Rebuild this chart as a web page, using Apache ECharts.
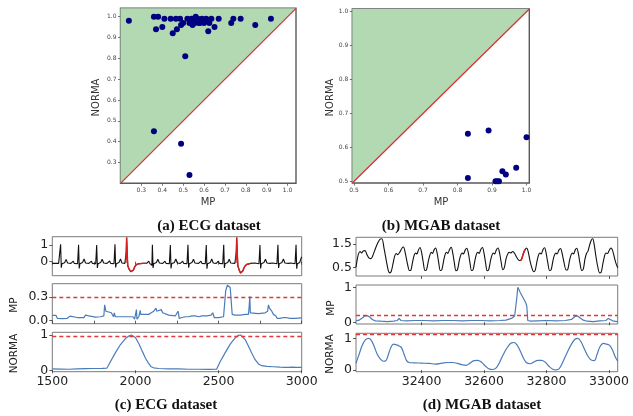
<!DOCTYPE html>
<html><head><meta charset="utf-8">
<script src="https://cdn.jsdelivr.net/npm/echarts@6/dist/echarts.min.js"></script>
<style>html,body{margin:0;padding:0;background:#fff}#c{width:633px;height:416px}</style>
</head><body><div id="c"></div>
<script>
// ---------- (a) ECG scatter: [MP, NORMA] ----------
const ecgScatter = [
  [0.24,0.98],[0.36,1.0],[0.38,1.0],[0.37,0.94],[0.40,0.95],[0.41,0.99],[0.44,0.99],[0.45,0.92],
  [0.465,0.99],[0.47,0.94],[0.485,0.99],[0.49,0.96],[0.50,0.97],[0.51,0.81],[0.52,0.99],[0.53,0.97],
  [0.54,0.99],[0.545,0.96],[0.55,0.98],[0.555,0.97],[0.56,1.0],[0.565,0.98],[0.57,0.99],[0.575,0.97],
  [0.58,0.97],[0.59,0.99],[0.60,0.97],[0.605,0.98],[0.61,0.99],[0.62,0.93],[0.625,0.97],[0.635,0.99],
  [0.65,0.95],[0.67,0.99],[0.73,0.97],[0.74,0.99],[0.775,0.99],[0.845,0.96],[0.92,0.99],
  [0.36,0.45],[0.49,0.39],[0.53,0.24]
];
// ---------- (b) MGAB scatter: [MP, NORMA] ----------
const mgabScatter = [
  [0.83,0.64],[0.89,0.65],[1.0,0.63],[0.83,0.51],[0.93,0.53],[0.94,0.52],[0.97,0.54],
  [0.91,0.50],[0.915,0.50],[0.92,0.50]
];
const scatterATicks = [0.3,0.4,0.5,0.6,0.7,0.8,0.9,1.0];
const scatterBTicks = [0.5,0.6,0.7,0.8,0.9,1.0];

// ---------- (c) ECG time series ----------
const ecgSignal = [
  [1500,-0.1],[1506,-0.08],[1512,0.02],[1518,-0.1],
  [1538,-0.1],[1544,-0.12],[1547,-0.22],[1550,1.05],[1554,-0.36],[1558,-0.12],[1574,-0.06],[1583,0.14],[1592,-0.08],[1612,-0.1],
  [1620,-0.08],[1626,0.03],[1632,-0.1],
  [1652,-0.12],[1655,-0.22],[1658,1.02],[1662,-0.4],[1666,-0.12],[1682,-0.05],[1691,0.16],[1700,-0.08],[1720,-0.1],
  [1729,-0.08],[1735,0.03],[1741,-0.1],
  [1761,-0.12],[1764,-0.22],[1767,1.0],[1771,-0.38],[1775,-0.12],[1791,-0.05],[1800,0.15],[1809,-0.08],[1829,-0.1],
  [1839,-0.08],[1845,0.04],[1851,-0.1],
  [1871,-0.12],[1874,-0.22],[1877,1.05],[1881,-0.34],[1885,-0.12],[1901,-0.05],[1910,0.16],[1919,-0.08],[1936,-0.1],
  [1942,-0.08],[1945,0.6],[1947,1.45],[1950,0.6],[1954,-0.25],[1962,-0.45],[1972,-0.6],[1980,-0.66],[1988,-0.5],
  [1996,-0.3],[2006,-0.17],[2020,-0.12],[2045,-0.1],[2068,-0.1],
  [2074,-0.08],[2080,0.03],[2086,-0.1],
  [2096,-0.12],[2099,-0.22],[2102,1.02],[2106,-0.38],[2110,-0.12],[2126,-0.05],[2135,0.15],[2144,-0.08],[2164,-0.1],
  [2172,-0.08],[2178,0.03],[2184,-0.1],
  [2204,-0.12],[2207,-0.22],[2210,1.0],[2214,-0.4],[2218,-0.12],[2234,-0.05],[2243,0.16],[2252,-0.08],[2270,-0.1],
  [2278,-0.08],[2284,0.03],[2290,-0.1],
  [2310,-0.12],[2313,-0.22],[2316,1.02],[2320,-0.36],[2324,-0.12],[2340,-0.05],[2349,0.15],[2358,-0.08],[2380,-0.1],
  [2388,-0.08],[2394,0.03],[2400,-0.1],
  [2420,-0.12],[2423,-0.22],[2426,1.0],[2430,-0.42],[2434,-0.12],[2450,-0.05],[2459,0.16],[2468,-0.08],[2486,-0.1],
  [2493,-0.08],[2499,0.03],[2505,-0.1],
  [2525,-0.12],[2528,-0.22],[2531,1.02],[2535,-0.38],[2539,-0.12],[2555,-0.05],[2564,0.15],[2573,-0.08],[2598,-0.1],
  [2604,-0.08],[2607,0.6],[2609,1.45],[2612,0.6],[2616,-0.25],[2624,-0.5],[2632,-0.68],[2638,-0.72],[2646,-0.55],
  [2656,-0.3],[2668,-0.17],[2680,-0.12],[2692,-0.1],
  [2717,-0.08],[2723,0.03],[2729,-0.1],
  [2743,-0.12],[2746,-0.22],[2749,1.0],[2753,-0.4],[2757,-0.12],[2773,-0.05],[2782,0.15],[2791,-0.08],[2810,-0.1],
  [2825,-0.08],[2831,0.03],[2837,-0.1],
  [2851,-0.12],[2854,-0.22],[2857,1.02],[2861,-0.38],[2865,-0.12],[2881,-0.05],[2890,0.16],[2899,-0.08],[2920,-0.1],
  [2934,-0.08],[2940,0.03],[2946,-0.1],
  [2960,-0.12],[2963,-0.22],[2966,1.02],[2970,-0.42],[2974,-0.12],[2988,-0.05],[2996,0.2],[3000,0.3]
];
const ecgAnomalies = [[1942,2068],[2604,2692]];
const ecgMP = [
  [1500,0.068],[1522,0.068],[1530,0.03],[1560,0.025],[1590,0.03],[1600,0.05],[1606,0.058],[1612,0.04],[1650,0.04],
  [1690,0.04],[1700,0.07],[1706,0.08],[1712,0.06],[1720,0.06],[1726,0.045],[1760,0.045],[1790,0.05],[1810,0.06],
  [1815,0.2],[1819,0.2],[1822,0.12],[1840,0.11],[1855,0.1],[1862,0.09],[1868,0.05],[1873,0.1],[1876,0.12],[1879,0.05],
  [1895,0.05],[1930,0.05],[1960,0.05],[1985,0.05],[1995,0.02],[2000,0.0],[2004,0.02],[2006,0.14],[2009,0.02],[2020,0.05],
  [2026,0.1],[2029,0.13],[2032,0.08],[2045,0.08],[2080,0.08],[2095,0.1],[2110,0.12],[2120,0.14],[2124,0.16],[2128,0.12],
  [2140,0.13],[2155,0.14],[2160,0.16],[2164,0.1],[2175,0.08],[2200,0.07],[2240,0.06],[2250,0.08],[2256,0.12],[2260,0.08],
  [2263,0.03],[2280,0.04],[2300,0.05],[2320,0.05],[2340,0.06],[2350,0.07],[2360,0.06],[2380,0.05],[2400,0.06],[2430,0.06],
  [2455,0.07],[2465,0.1],[2470,0.1],[2474,0.04],[2500,0.04],[2530,0.05],[2540,0.06],[2543,0.38],[2548,0.4],[2553,0.45],
  [2560,0.44],[2570,0.42],[2578,0.4],[2582,0.08],[2600,0.07],[2630,0.07],[2660,0.08],[2680,0.08],[2684,0.18],[2688,0.31],
  [2691,0.1],[2700,0.09],[2740,0.09],[2780,0.1],[2795,0.12],[2800,0.2],[2806,0.16],[2812,0.14],[2820,0.12],[2830,0.08],
  [2845,0.06],[2852,0.03],[2870,0.03],[2890,0.04],[2898,0.06],[2904,0.04],[2930,0.03],[2960,0.03],[3000,0.035]
];
const ecgNORMA = [
  [1500,0.04],[1550,0.035],[1600,0.03],[1650,0.04],[1700,0.045],[1750,0.05],[1800,0.055],[1828,0.06],[1850,0.25],
  [1880,0.5],[1910,0.73],[1940,0.9],[1960,0.97],[1975,1.0],[1985,0.99],[2000,0.93],[2020,0.76],[2040,0.55],[2060,0.35],
  [2078,0.2],[2095,0.1],[2110,0.07],[2140,0.05],[2200,0.04],[2260,0.04],[2320,0.03],[2380,0.03],[2440,0.025],[2488,0.03],
  [2510,0.25],[2540,0.5],[2570,0.74],[2600,0.92],[2620,0.99],[2633,1.0],[2645,0.97],[2660,0.87],[2680,0.68],[2700,0.48],
  [2720,0.3],[2740,0.18],[2760,0.13],[2790,0.11],[2830,0.1],[2870,0.09],[2900,0.085],[2920,0.08],[2930,0.07],[2945,0.09],
  [2970,0.085],[3000,0.08]
];
const ecgMPThreshold = 0.3;
const ecgNORMAThreshold = 0.95;
const ecgTicksMinor = [1500,1750,2000,2250,2500,2750,3000];
const ecgTickLabels = [1500,2000,2500,3000];

// ---------- (d) MGAB time series ----------
const mgabSignal = [
  [32190,0.52],[32194,0.85],[32198,1.08],[32203,1.18],[32208,1.12],[32213,1.2],[32219,1.22],[32225,1.05],[32232,0.9],
  [32238,0.88],[32245,1.05],[32252,1.3],[32260,1.55],[32267,1.7],[32273,1.72],[32280,1.3],[32287,0.8],[32293,0.4],
  [32298,0.28],[32303,0.35],
  [32309,0.7],[32314,1.0],[32319,1.1],[32324,1.05],[32330,1.15],[32337,1.32],[32342,1.37],[32348,1.1],[32355,0.65],[32361,0.38],[32366,0.4],
  [32372,0.8],[32377,1.05],[32381,1.12],[32385,1.08],[32390,1.25],[32395,1.35],[32400,1.15],[32405,0.75],[32411,0.38],[32416,0.42],
  [32422,0.8],[32427,1.05],[32431,1.15],[32435,1.1],[32440,1.25],[32445,1.33],[32450,1.1],[32455,0.7],[32460,0.38],[32465,0.42],
  [32471,0.82],[32476,1.08],[32480,1.15],[32484,1.1],[32490,1.28],[32495,1.36],[32500,1.1],[32505,0.7],[32510,0.37],[32515,0.42],
  [32521,0.82],[32526,1.05],[32530,1.12],[32534,1.08],[32540,1.25],[32545,1.32],[32550,1.1],[32555,0.7],[32560,0.38],[32565,0.42],
  [32571,0.82],[32576,1.08],[32580,1.15],[32584,1.1],[32590,1.28],[32595,1.35],[32600,1.1],[32605,0.7],[32610,0.37],[32615,0.42],
  [32621,0.82],[32626,1.05],[32630,1.12],[32634,1.08],[32640,1.27],[32645,1.33],[32650,1.1],[32655,0.72],[32660,0.42],[32665,0.5],
  [32670,0.85],[32675,1.05],[32680,1.15],[32685,1.12],[32692,1.18],[32698,1.1],[32704,0.95],[32710,0.83],[32716,0.8],
  [32720,0.85],[32726,1.1],[32731,1.25],[32736,1.33],[32741,1.2],[32747,0.8],[32753,0.5],[32759,0.33],[32764,0.4],
  [32770,0.8],[32775,1.05],[32779,1.12],[32783,1.08],[32789,1.27],[32794,1.34],[32799,1.1],[32804,0.72],[32810,0.38],[32815,0.42],
  [32821,0.82],[32826,1.05],[32830,1.12],[32834,1.08],[32840,1.25],[32845,1.31],[32850,1.1],[32856,0.72],[32863,0.4],[32868,0.42],
  [32874,0.82],[32879,1.05],[32883,1.12],[32887,1.08],[32892,1.25],[32897,1.32],[32902,1.1],[32907,0.7],[32913,0.38],[32918,0.45],
  [32923,0.85],[32928,1.1],[32933,1.2],[32938,1.45],[32943,1.65],[32948,1.72],[32953,1.45],[32958,1.0],[32964,0.55],[32970,0.28],[32975,0.3],
  [32981,0.7],[32986,1.0],[32990,1.12],[32995,1.1],[33000,1.2],[33006,1.33],[33011,1.25],[33017,0.95],[33022,0.7],[33028,0.5]
];
const mgabAnomalies = [[32716,32733]];
const mgabMP = [
  [32190,0.04],[32200,0.06],[32210,0.12],[32218,0.18],[32226,0.19],[32234,0.15],[32242,0.08],[32252,0.04],[32270,0.03],
  [32290,0.02],[32310,0.03],[32322,0.05],[32328,0.11],[32334,0.05],[32350,0.04],[32380,0.05],[32410,0.05],[32440,0.04],
  [32470,0.05],[32500,0.05],[32530,0.04],[32560,0.05],[32590,0.05],[32620,0.04],[32650,0.05],[32670,0.06],[32680,0.09],
  [32690,0.12],[32698,0.18],[32702,0.2],[32705,0.7],[32708,1.0],[32712,0.93],[32716,0.85],[32722,0.75],[32728,0.65],
  [32734,0.55],[32737,0.45],[32740,0.05],[32750,0.03],[32770,0.04],[32800,0.05],[32830,0.04],[32860,0.05],[32880,0.08],
  [32892,0.17],[32900,0.18],[32908,0.12],[32918,0.06],[32930,0.03],[32950,0.02],[32970,0.04],[32990,0.05],[32998,0.11],
  [33004,0.07],[33015,0.03],[33028,0.02]
];
const mgabNORMA = [
  [32190,0.22],[32200,0.5],[32210,0.78],[32220,0.95],[32230,1.0],[32238,0.95],[32248,0.75],[32258,0.5],[32268,0.35],
  [32278,0.28],[32286,0.3],[32294,0.5],[32302,0.72],[32310,0.82],[32318,0.8],[32328,0.76],[32336,0.7],[32344,0.5],
  [32352,0.3],[32360,0.24],[32375,0.23],[32400,0.22],[32425,0.21],[32445,0.19],[32465,0.22],[32485,0.24],[32500,0.24],
  [32515,0.21],[32530,0.17],[32542,0.15],[32555,0.22],[32568,0.3],[32580,0.31],[32592,0.25],[32605,0.12],[32618,0.03],
  [32628,0.02],[32638,0.06],[32650,0.25],[32662,0.5],[32675,0.72],[32688,0.86],[32696,0.87],[32705,0.8],[32716,0.6],
  [32726,0.38],[32736,0.23],[32748,0.2],[32760,0.26],[32772,0.31],[32784,0.31],[32796,0.25],[32808,0.12],[32820,0.03],
  [32830,0.01],[32840,0.04],[32852,0.25],[32866,0.55],[32880,0.82],[32892,0.98],[32900,1.0],[32910,0.9],[32922,0.65],
  [32934,0.42],[32945,0.31],[32953,0.3],[32962,0.5],[32972,0.75],[32982,0.84],[32992,0.82],[33002,0.78],[33012,0.62],
  [33020,0.42],[33028,0.28]
];
const mgabMPThreshold = 0.2;
const mgabNORMAThreshold = 1.14;
const mgabTicks = [32400,32600,32800,33000];

// ---------- helpers ----------
const BLUE = '#4a7cba', RED = '#d81e1e', DASH = '#e2383a', GREEN = '#b3d9b3', NAVY = '#000080';
function redSegments(sig, ranges) {
  const out = [];
  ranges.forEach((r, i) => {
    if (i) out.push('-');
    sig.forEach(p => { if (p[0] >= r[0] && p[0] <= r[1]) out.push(p); });
  });
  return out;
}
const f1 = v => v.toFixed(1);
const f0 = v => String(v);

function sAxis(g, min, max, ticks) {
  return {
    type: 'value', gridIndex: g, min, max, splitLine: { show: false },
    axisLine: { show: false },
    axisTick: { show: true, customValues: ticks, length: 2.5, lineStyle: { color: '#555', width: 0.8 } },
    axisLabel: { show: true, customValues: ticks, formatter: f1, fontSize: 6, color: '#444',
      fontFamily: 'DejaVu Sans', margin: 4 }
  };
}
function tAxis(g, min, max, ticks, labels, fmt, showLabel) {
  return {
    type: 'value', gridIndex: g, min, max, splitLine: { show: false },
    axisLine: { show: false },
    axisTick: { show: true, customValues: ticks, length: 3, lineStyle: { color: '#333', width: 0.8 } },
    axisLabel: { show: showLabel, customValues: labels, formatter: fmt, fontSize: 12.5, color: '#222',
      fontFamily: 'DejaVu Sans', margin: 4 }
  };
}
const sGrid = (l, t, w, h) => ({ left: l, top: t, width: w, height: h, show: true, borderColor: '#5a5a5a', borderWidth: 1.4, backgroundColor: 'transparent' });
const tGrid = (l, t, w, h) => ({ left: l, top: t, width: w, height: h, show: true, borderColor: '#7a7a7a', borderWidth: 1, backgroundColor: 'transparent' });

const aMin = 0.2, aMax = 1.04, bMin = 0.495, bMax = 1.008;
const ecgMin = 1500, ecgMax = 3000, mgMin = 32190, mgMax = 33028;

function txt(t, x, y, rot, size, weight, fam, color) {
  return { type: 'text', x, y, rotation: rot ? Math.PI / 2 : 0, silent: true,
    style: { text: t, fill: color, font: weight + ' ' + size + 'px "' + fam + '"', align: 'center', verticalAlign: 'middle' } };
}
const mark = (v) => ({ silent: true, symbol: 'none', label: { show: false }, animation: false,
  lineStyle: { color: DASH, type: [4, 3], width: 1.3 }, data: [{ yAxis: v }] });

const option = {
  animation: false,
  grid: [
    sGrid(120.5, 8.3, 175.5, 175),
    sGrid(352.3, 9, 177, 174),
    tGrid(52.3, 236.7, 249.4, 39),
    tGrid(52.3, 283.7, 249.4, 40),
    tGrid(52.3, 332.3, 249.4, 39.4),
    tGrid(356, 237.3, 261.7, 38.7),
    tGrid(356, 285, 261.7, 39),
    tGrid(356, 333.3, 261.7, 38.4)
  ],
  xAxis: [
    sAxis(0, aMin, aMax, scatterATicks),
    sAxis(1, bMin, bMax, scatterBTicks),
    tAxis(2, ecgMin, ecgMax, ecgTicksMinor, [], f0, false),
    tAxis(3, ecgMin, ecgMax, ecgTicksMinor, [], f0, false),
    tAxis(4, ecgMin, ecgMax, ecgTickLabels, ecgTickLabels, f0, true),
    tAxis(5, mgMin, mgMax, mgabTicks, [], f0, false),
    tAxis(6, mgMin, mgMax, mgabTicks, [], f0, false),
    tAxis(7, mgMin, mgMax, mgabTicks, mgabTicks, f0, true)
  ],
  yAxis: [
    sAxis(0, aMin, aMax, scatterATicks),
    sAxis(1, bMin, bMax, scatterBTicks),
    tAxis(2, -0.84, 1.5, [0, 1], [0, 1], f0, true),
    tAxis(3, -0.038, 0.468, [0, 0.3], [0, 0.3], f1, true),
    tAxis(4, -0.04, 1.076, [0, 1], [0, 1], f0, true),
    tAxis(5, 0.15, 1.78, [0.5, 1.5], [0.5, 1.5], f1, true),
    tAxis(6, -0.05, 1.066, [0, 1], [0, 1], f0, true),
    tAxis(7, -0.05, 1.16, [0, 1], [0, 1], f0, true)
  ],
  series: [
    { type: 'line', xAxisIndex: 0, yAxisIndex: 0, data: [[aMin, aMin], [aMax, aMax]], symbol: 'none',
      lineStyle: { color: '#d62f35', width: 1.2 }, areaStyle: { origin: 'end', color: GREEN, opacity: 1 }, z: 1 },
    { type: 'scatter', xAxisIndex: 0, yAxisIndex: 0, data: ecgScatter, symbolSize: 6, itemStyle: { color: NAVY, opacity: 1 }, clip: false, z: 3 },
    { type: 'line', xAxisIndex: 1, yAxisIndex: 1, data: [[bMin, bMin], [bMax, bMax]], symbol: 'none',
      lineStyle: { color: '#d62f35', width: 1.2 }, areaStyle: { origin: 'end', color: GREEN, opacity: 1 }, z: 1 },
    { type: 'scatter', xAxisIndex: 1, yAxisIndex: 1, data: mgabScatter, symbolSize: 6, itemStyle: { color: NAVY, opacity: 1 }, clip: false, z: 3 },

    { type: 'line', xAxisIndex: 2, yAxisIndex: 2, data: ecgSignal, symbol: 'none', lineStyle: { color: '#111', width: 1.1 } },
    { type: 'line', xAxisIndex: 2, yAxisIndex: 2, data: redSegments(ecgSignal, ecgAnomalies), symbol: 'none', connectNulls: false,
      lineStyle: { color: RED, width: 1.4 }, z: 3 },
    { type: 'line', xAxisIndex: 3, yAxisIndex: 3, data: ecgMP, symbol: 'none', lineStyle: { color: BLUE, width: 1.2 }, markLine: mark(ecgMPThreshold) },
    { type: 'line', xAxisIndex: 4, yAxisIndex: 4, data: ecgNORMA, symbol: 'none', lineStyle: { color: BLUE, width: 1.2 }, markLine: mark(ecgNORMAThreshold) },

    { type: 'line', xAxisIndex: 5, yAxisIndex: 5, data: mgabSignal, symbol: 'none', smooth: 0.3, lineStyle: { color: '#111', width: 1.1 } },
    { type: 'line', xAxisIndex: 5, yAxisIndex: 5, data: redSegments(mgabSignal, mgabAnomalies), symbol: 'none', smooth: 0.3,
      lineStyle: { color: RED, width: 1.5 }, z: 3 },
    { type: 'line', xAxisIndex: 6, yAxisIndex: 6, data: mgabMP, symbol: 'none', lineStyle: { color: BLUE, width: 1.2 }, markLine: mark(mgabMPThreshold) },
    { type: 'line', xAxisIndex: 7, yAxisIndex: 7, data: mgabNORMA, symbol: 'none', smooth: 0.4, lineStyle: { color: BLUE, width: 1.2 }, markLine: mark(mgabNORMAThreshold) }
  ],
  graphic: [
    txt('NORMA', 96.5, 97.5, true, 10, 'normal', 'DejaVu Sans', '#333'),
    txt('MP', 208, 202, false, 10, 'normal', 'DejaVu Sans', '#333'),
    txt('NORMA', 330, 97.5, true, 10, 'normal', 'DejaVu Sans', '#333'),
    txt('MP', 441, 202, false, 10, 'normal', 'DejaVu Sans', '#333'),
    txt('MP', 14, 305, true, 10.5, 'normal', 'DejaVu Sans', '#222'),
    txt('NORMA', 14, 353.5, true, 10.5, 'normal', 'DejaVu Sans', '#222'),
    txt('MP', 331, 308, true, 10.5, 'normal', 'DejaVu Sans', '#222'),
    txt('NORMA', 330.5, 354, true, 10.5, 'normal', 'DejaVu Sans', '#222'),
    txt('(a) ECG dataset', 209, 226.5, false, 15, 'bold', 'Liberation Serif', '#111'),
    txt('(b) MGAB dataset', 441, 226.5, false, 15, 'bold', 'Liberation Serif', '#111'),
    txt('(c) ECG dataset', 166, 405, false, 15, 'bold', 'Liberation Serif', '#111'),
    txt('(d) MGAB dataset', 482, 405, false, 15, 'bold', 'Liberation Serif', '#111')
  ]
};
const chart = echarts.init(document.getElementById('c'), null, { renderer: 'canvas', width: 633, height: 416 });
chart.setOption(option);
</script>
</body></html>
